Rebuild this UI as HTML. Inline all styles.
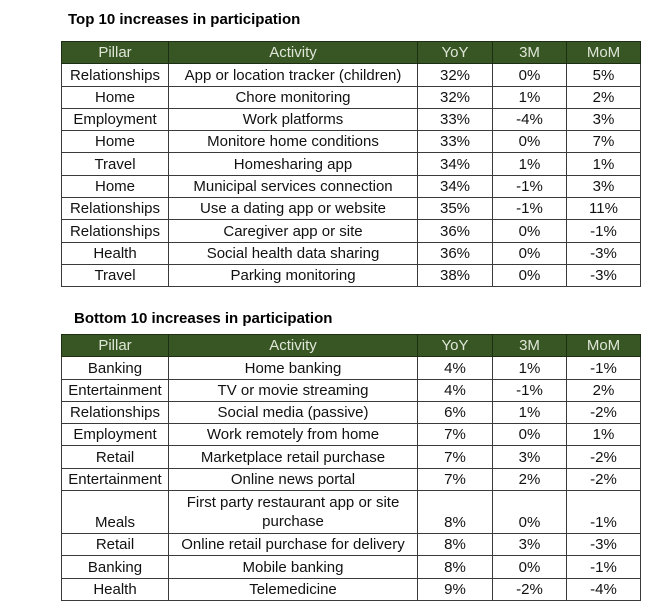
<!DOCTYPE html>
<html><head><meta charset="utf-8">
<style>
body{margin:0;width:658px;height:605px;background:#fff;position:relative;overflow:hidden;font-family:"Liberation Sans",sans-serif;}
.title{position:absolute;font-weight:bold;font-size:15px;color:#000;}
table{position:absolute;left:61px;border-collapse:collapse;table-layout:fixed;font-size:15px;color:#111;}
td,th{border:1px solid #3a3a3a;text-align:center;vertical-align:bottom;padding:0 0 2px 0;height:19.3px;line-height:17px;white-space:nowrap;overflow:visible;}
th{background:#375623;color:#dfe6d8;font-weight:normal;border-color:#1e2e14;}
td.wrap{white-space:normal;line-height:19px;}
</style></head><body>
<div class="title" style="left:68px;top:11px;">Top 10 increases in participation</div>
<table id="t1" style="top:41px;"></table>
<div class="title" style="left:74px;top:310px;">Bottom 10 increases in participation</div>
<table id="t2" style="top:334px;"></table>
<script>
const headers=["Pillar","Activity","YoY","3M","MoM"];
const colWidths=[107,249,75,74,74];
const topPillars=["Relationships","Home","Employment","Home","Travel","Home","Relationships","Relationships","Health","Travel"];
const topActivities=["App or location tracker (children)","Chore monitoring","Work platforms","Monitore home conditions","Homesharing app","Municipal services connection","Use a dating app or website","Caregiver app or site","Social health data sharing","Parking monitoring"];
const topYoY=["32%","32%","33%","33%","34%","34%","35%","36%","36%","38%"];
const top3M=["0%","1%","-4%","0%","1%","-1%","-1%","0%","0%","0%"];
const topMoM=["5%","2%","3%","7%","1%","3%","11%","-1%","-3%","-3%"];
const botPillars=["Banking","Entertainment","Relationships","Employment","Retail","Entertainment","Meals","Retail","Banking","Health"];
const botActivities=["Home banking","TV or movie streaming","Social media (passive)","Work remotely from home","Marketplace retail purchase","Online news portal","First party restaurant app or site purchase","Online retail purchase for delivery","Mobile banking","Telemedicine"];
const botYoY=["4%","4%","6%","7%","7%","7%","8%","8%","8%","9%"];
const bot3M=["1%","-1%","1%","0%","3%","2%","0%","3%","0%","-2%"];
const botMoM=["-1%","2%","-2%","1%","-2%","-2%","-1%","-3%","-1%","-4%"];
function build(id,cols,prefix){
  const t=document.getElementById(id);
  const cg=document.createElement('colgroup');
  colWidths.forEach(w=>{const c=document.createElement('col');c.style.width=w+'px';cg.appendChild(c);});
  t.appendChild(cg);
  const hr=document.createElement('tr');
  
  
  headers.forEach(h=>{const th=document.createElement('th');th.textContent=h;
    
    
    hr.appendChild(th);});
  t.appendChild(hr);
  for(let i=0;i<cols[0].length;i++){
    const tr=document.createElement('tr');
    
    
    const tall=cols[1][i].length>36;
    cols.forEach((arr,j)=>{const td=document.createElement('td');td.textContent=arr[i];
      if(tall){td.style.height='40px';if(j===1)td.className='wrap';}
      
      
      tr.appendChild(td);});
    t.appendChild(tr);
  }
}
build('t1',[topPillars,topActivities,topYoY,top3M,topMoM],'top');
build('t2',[botPillars,botActivities,botYoY,bot3M,botMoM],'bottom');
</script>
</body></html>
